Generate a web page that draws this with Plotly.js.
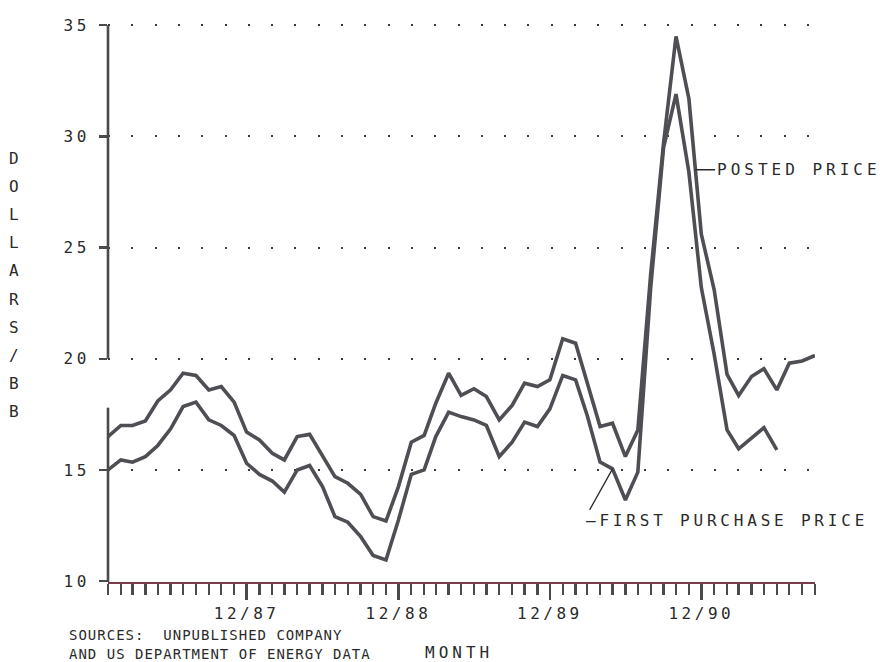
<!DOCTYPE html>
<html>
<head>
<meta charset="utf-8">
<script src="https://cdn.plot.ly/plotly-3.0.1.min.js"></script>
<style>
  html, body { margin: 0; padding: 0; background: #fff; }
  #chart { width: 880px; height: 662px; }
</style>
</head>
<body>
<div id="chart"></div>
<script>
// Monthly crude oil prices, January 1987 through September 1991 (dollars per barrel)
const months = [
  '1987-01-01','1987-02-01','1987-03-01','1987-04-01','1987-05-01','1987-06-01',
  '1987-07-01','1987-08-01','1987-09-01','1987-10-01','1987-11-01','1987-12-01',
  '1988-01-01','1988-02-01','1988-03-01','1988-04-01','1988-05-01','1988-06-01',
  '1988-07-01','1988-08-01','1988-09-01','1988-10-01','1988-11-01','1988-12-01',
  '1989-01-01','1989-02-01','1989-03-01','1989-04-01','1989-05-01','1989-06-01',
  '1989-07-01','1989-08-01','1989-09-01','1989-10-01','1989-11-01','1989-12-01',
  '1990-01-01','1990-02-01','1990-03-01','1990-04-01','1990-05-01','1990-06-01',
  '1990-07-01','1990-08-01','1990-09-01','1990-10-01','1990-11-01','1990-12-01',
  '1991-01-01','1991-02-01','1991-03-01','1991-04-01','1991-05-01','1991-06-01',
  '1991-07-01','1991-08-01','1991-09-01'
];

const postedPrice = [
  16.5, 17.0, 17.0, 17.2, 18.1, 18.6, 19.35, 19.25, 18.6, 18.75, 18.05, 16.7,
  16.35, 15.75, 15.45, 16.5, 16.6, 15.6, 14.7, 14.4, 13.9, 12.9, 12.7, 14.25,
  16.25, 16.55, 18.0, 19.35, 18.35, 18.65, 18.3, 17.25, 17.9, 18.9, 18.75, 19.05,
  20.9, 20.7, 18.9, 16.95, 17.1, 15.6, 16.8, 23.8, 29.7, 34.5, 31.7, 25.6,
  23.1, 19.3, 18.35, 19.2, 19.55, 18.6, 19.8, 19.9, 20.15
];

const firstPurchasePrice = [
  15.0, 15.45, 15.35, 15.6, 16.1, 16.85, 17.85, 18.05, 17.25, 17.0, 16.55, 15.3,
  14.8, 14.5, 14.0, 15.0, 15.2, 14.25, 12.9, 12.65, 12.0, 11.15, 10.95, 12.75,
  14.8, 15.0, 16.5, 17.6, 17.4, 17.25, 17.0, 15.6, 16.25, 17.15, 16.95, 17.75,
  19.25, 19.05, 17.45, 15.35, 15.05, 13.65, 14.9, 23.2, 29.5, 31.9, 28.4, 23.2,
  20.2, 16.8, 15.95, 16.45, 16.9, 15.9
];

const xTickVals = ['1987-12-01', '1988-12-01', '1989-12-01', '1990-12-01'];
const xTickText = ['12/87', '12/88', '12/89', '12/90'];
const yTickVals = [10, 15, 20, 25, 30, 35];
const yTickText = ['10', '15', '20', '25', '30', '35'];
const yTitle = 'DOLLARS/BB';
const seriesNames = ['POSTED PRICE', 'FIRST PURCHASE PRICE'];
const sourceLines = ['SOURCES:  UNPUBLISHED COMPANY', 'AND US DEPARTMENT OF ENERGY DATA'];

// plotter-style lettering: monospace with extra tracking
const MONO = '"DejaVu Sans Mono", "Liberation Mono", monospace';
const INK = '#2a2a2a';
const spaced = (s, px) => '<span style="letter-spacing:' + px + 'px">' + s + '</span>';

const M = { l: 108, r: 65, t: 23, b: 80 };
const W = 880, H = 662;
const pw = W - M.l - M.r, ph = H - M.t - M.b;
const px2paperX = px => (px - M.l) / pw;
const px2paperY = py => 1 - (py - M.t) / ph;

const lineStyle = { color: '#4e4e54', width: 3.6 };

const traces = [
  { x: months, y: postedPrice, name: seriesNames[0], type: 'scatter', mode: 'lines',
    line: lineStyle, hoverinfo: 'skip' },
  { x: months.slice(0, firstPurchasePrice.length), y: firstPurchasePrice, name: seriesNames[1],
    type: 'scatter', mode: 'lines', line: lineStyle, hoverinfo: 'skip' }
];

// point where the posted-price leader touches the falling side of the 1990 spike
const leaderLevel = 28.5;
const i0 = 46, i1 = 47;
const frac = (postedPrice[i0] - leaderLevel) / (postedPrice[i0] - postedPrice[i1]);
const t0 = Date.parse(months[i0] + 'T00:00:00Z'), t1 = Date.parse(months[i1] + 'T00:00:00Z');
const postedX = new Date(t0 + frac * (t1 - t0)).toISOString().slice(0, 10);

// first purchase leader points at May 1990
const fpIdx = 40;

const annotations = [
  { x: postedX, y: leaderLevel, xref: 'x', yref: 'y', text: spaced(seriesNames[0], 4),
    showarrow: true, arrowhead: 0, arrowwidth: 1.3, arrowcolor: INK, ax: 20, ay: 0,
    xanchor: 'left', yanchor: 'middle', font: { family: MONO, size: 16, color: INK } },
  { x: months[fpIdx], y: firstPurchasePrice[fpIdx], xref: 'x', yref: 'y',
    text: spaced('\u2013' + seriesNames[1], 3.8),
    showarrow: true, arrowhead: 0, arrowwidth: 1.3, arrowcolor: INK, ax: -29, ay: 52,
    xanchor: 'left', yanchor: 'middle', font: { family: MONO, size: 16, color: INK } },
  { x: px2paperX(459), y: px2paperY(652), xref: 'paper', yref: 'paper', text: spaced('MONTH', 4),
    showarrow: false, xanchor: 'center', yanchor: 'middle', font: { family: MONO, size: 16, color: INK } },
  { x: px2paperX(67), y: px2paperY(635), xref: 'paper', yref: 'paper', text: spaced(sourceLines[0], 1),
    showarrow: false, xanchor: 'left', yanchor: 'middle', font: { family: MONO, size: 14, color: INK } },
  { x: px2paperX(67), y: px2paperY(654), xref: 'paper', yref: 'paper', text: spaced(sourceLines[1], 1),
    showarrow: false, xanchor: 'left', yanchor: 'middle', font: { family: MONO, size: 14, color: INK } }
];

// vertical stacked axis title
yTitle.split('').forEach((ch, k) => {
  annotations.push({
    x: px2paperX(14), y: px2paperY(158 + k * 28.2), xref: 'paper', yref: 'paper',
    text: ch, showarrow: false, xanchor: 'center', yanchor: 'middle',
    font: { family: MONO, size: 16, color: INK }
  });
});

const axisInk = '#4a4a4a';
// y axis spine is broken between about 17.8 and 20
const shapes = [
  { type: 'line', xref: 'paper', yref: 'y', x0: 0, x1: 0, y0: 20, y1: 35,
    line: { color: axisInk, width: 2.6 } },
  { type: 'line', xref: 'paper', yref: 'y', x0: 0, x1: 0, y0: 9.96, y1: 17.8,
    line: { color: axisInk, width: 2.6 } }
];

const layout = {
  width: W, height: H,
  margin: M,
  paper_bgcolor: '#ffffff', plot_bgcolor: '#ffffff',
  showlegend: false,
  font: { family: MONO, color: INK },
  xaxis: {
    type: 'date',
    range: ['1987-01-01', '1991-09-01'],
    showgrid: false, zeroline: false,
    showline: true, linecolor: '#7b3a4c', linewidth: 2.4,
    tickmode: 'array', tickvals: xTickVals,
    ticktext: xTickText.map(s => spaced(s, 3.5)),
    ticks: 'outside', ticklen: 16, tickwidth: 2.4, tickcolor: axisInk,
    ticklabelstandoff: -1,
    tickfont: { family: MONO, size: 16, color: INK },
    minor: { dtick: 'M1', tick0: '1987-01-01', ticks: 'outside', ticklen: 11,
             tickwidth: 2.4, tickcolor: axisInk, showgrid: false }
  },
  yaxis: {
    range: [9.96, 35.1],
    showline: false, zeroline: false,
    tickmode: 'array', tickvals: yTickVals,
    ticktext: yTickText.map(s => spaced(s, 3.5)),
    ticks: 'outside', ticklen: 8, tickwidth: 2.2, tickcolor: axisInk,
    ticklabelstandoff: 6,
    tickfont: { family: MONO, size: 16, color: INK },
    showgrid: true, gridcolor: '#3a3a3a', gridwidth: 2, griddash: '2px,21.3px'
  },
  shapes: shapes,
  annotations: annotations
};

Plotly.newPlot('chart', traces, layout, { staticPlot: true, displayModeBar: false });
</script>
</body>
</html>
